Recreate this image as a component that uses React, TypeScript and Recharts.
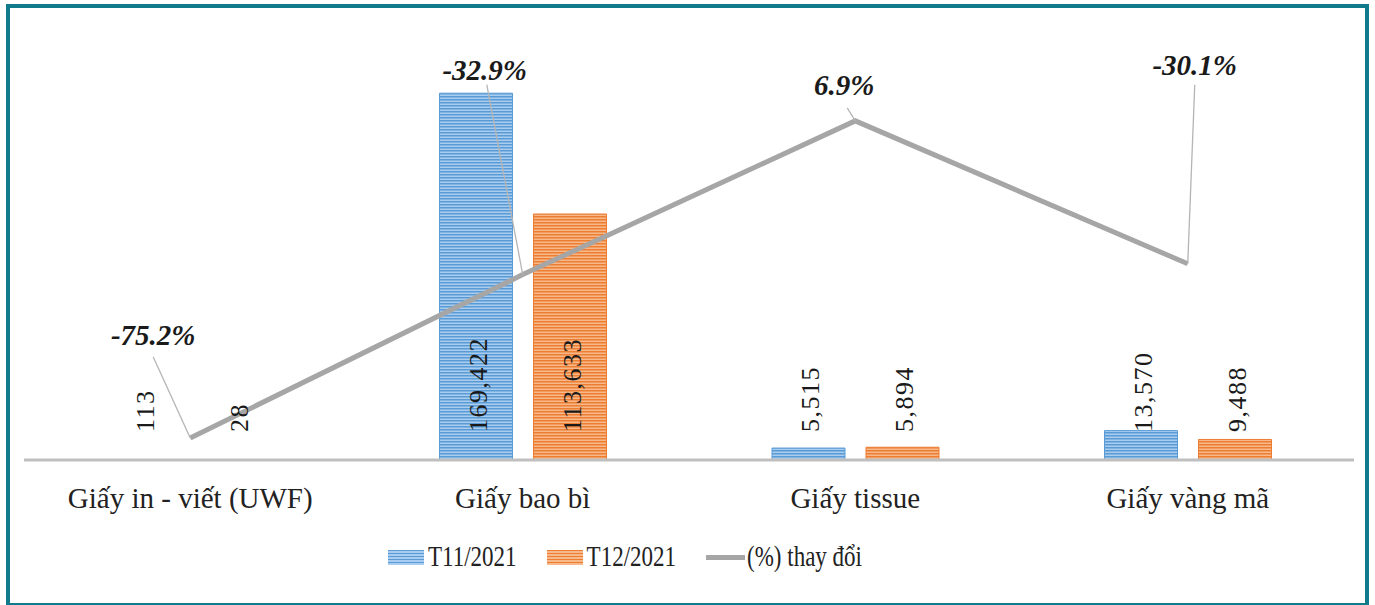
import React from 'react';
import { ComposedChart, Bar, Line, XAxis, YAxis, Legend, LabelList } from 'recharts';

const categories = ['Giấy in - viết (UWF)', 'Giấy bao bì', 'Giấy tissue', 'Giấy vàng mã'];
const t11Values = [113, 169422, 5515, 13570];
const t12Values = [28, 113633, 5894, 9488];
const changeValues = [-75.2, -32.9, 6.9, -30.1];

const data = categories.map((name, i) => ({
  name,
  t11: t11Values[i],
  t12: t12Values[i],
  change: changeValues[i],
}));

// label offset layout (relative to each line point): text anchor and leader-line start
const pctLabelLayout = [
  { tx: -37, ty: -93, lx: -37, ly: -81 },
  { tx: -38, ty: -195, lx: -36, ly: -190 },
  { tx: -11, ty: -26, lx: -8, ly: -13 },
  { tx: 7, ty: -189, lx: 7, ly: -179 },
];

const SERIF = '"Liberation Serif", "Times New Roman", serif';
const BLUE_DARK = '#5b9bd5';
const BLUE_LIGHT = '#a9cdf0';
const ORANGE_DARK = '#ed7d31';
const ORANGE_LIGHT = '#f7b98c';
const LINE_GRAY = '#a6a6a6';

const ValueLabel = (props: any) => {
  const { x, y, width, height, value } = props;
  const cx = Number(x) + Number(width) / 2 + 2;
  const bottom = Number(y) + Number(height);
  const by = bottom - 28;
  return (
    <text
      x={cx}
      y={by}
      transform={`rotate(-90, ${cx}, ${by})`}
      textAnchor="start"
      dominantBaseline="central"
      style={{ fontFamily: SERIF, fontSize: 26, letterSpacing: 1.5 }}
      fill="#1a1a1a"
    >
      {Number(value).toLocaleString('en-US')}
    </text>
  );
};

const PctLabel = (props: any) => {
  const { x, y, value } = props;
  let index = props.index;
  if (index === undefined || index === null) index = changeValues.indexOf(Number(value));
  const lay = pctLabelLayout[index] || { tx: 0, ty: -20, lx: 0, ly: -10 };
  const px = Number(x);
  const py = Number(y);
  return (
    <g>
      <line x1={px + lay.lx} y1={py + lay.ly} x2={px} y2={py} stroke="#b5b5b5" strokeWidth={1.3} />
      <text
        x={px + lay.tx}
        y={py + lay.ty}
        textAnchor="middle"
        style={{ fontFamily: SERIF, fontSize: 29, fontStyle: 'italic', fontWeight: 'bold' }}
        fill="#1a1a1a"
      >
        {`${Number(value).toFixed(1)}%`}
      </text>
    </g>
  );
};

const CategoryTick = (props: any) => {
  const { x, y, payload } = props;
  return (
    <text
      x={x}
      y={Number(y) + 48}
      textAnchor="middle"
      style={{ fontFamily: SERIF, fontSize: 29 }}
      fill="#222"
    >
      {payload.value}
    </text>
  );
};

const legendItems = [
  { label: 'T11/2021', kind: 'bar', dark: BLUE_DARK, light: BLUE_LIGHT },
  { label: 'T12/2021', kind: 'bar', dark: ORANGE_DARK, light: ORANGE_LIGHT },
  { label: '(%) thay đổi', kind: 'line', dark: LINE_GRAY, light: LINE_GRAY },
];

const LegendContent = () => (
  <div style={{ display: 'flex', alignItems: 'center', fontFamily: SERIF, fontSize: 23, color: '#222' }}>
    {legendItems.map((it, i) => (
      <div key={i} style={{ display: 'flex', alignItems: 'center', marginRight: i < 2 ? 30 : 0 }}>
        {it.kind === 'bar' ? (
          <div
            style={{
              width: 36,
              height: 15,
              marginRight: 4,
              background: `repeating-linear-gradient(to bottom, ${it.dark} 0px, ${it.dark} 1.5px, ${it.light} 1.5px, ${it.light} 3px)`,
            }}
          />
        ) : (
          <div style={{ width: 39, height: 5, background: it.dark, marginRight: 2 }} />
        )}
        <span style={{ lineHeight: '26px', display: 'inline-block', transform: 'scaleY(1.3)' }}>{it.label}</span>
      </div>
    ))}
  </div>
);

export default function App() {
  return (
    <div style={{ position: 'fixed', left: 0, top: 0, width: 1375, height: 605, background: '#fff', overflow: 'hidden' }}>
      <div
        style={{
          position: 'absolute',
          left: 6,
          top: 4,
          width: 1363,
          height: 603,
          border: '4px solid #127b8b',
          boxSizing: 'border-box',
        }}
      />
      <div style={{ position: 'absolute', left: 0, top: 0 }}>
        <ComposedChart
          width={1375}
          height={605}
          data={data}
          margin={{ top: 27, right: 21, bottom: 0, left: 24 }}
          barCategoryGap={83}
          barGap={21}
        >
          <defs>
            <pattern id="stripeBlue" patternUnits="userSpaceOnUse" width="6" height="3">
              <rect x="0" y="0" width="6" height="3" fill={BLUE_LIGHT} />
              <rect x="0" y="0" width="6" height="1.5" fill={BLUE_DARK} />
            </pattern>
            <pattern id="stripeOrange" patternUnits="userSpaceOnUse" width="6" height="3">
              <rect x="0" y="0" width="6" height="3" fill={ORANGE_LIGHT} />
              <rect x="0" y="0" width="6" height="1.5" fill={ORANGE_DARK} />
            </pattern>
          </defs>
          <XAxis
            dataKey="name"
            height={145}
            axisLine={{ stroke: '#bfbfbf', strokeWidth: 3 }}
            tickLine={false}
            tickSize={0}
            tickMargin={0}
            interval={0}
            tick={<CategoryTick />}
          />
          <YAxis yAxisId="left" hide domain={[0, 200000]} />
          <YAxis yAxisId="right" orientation="right" hide domain={[-80.9, 31.2]} allowDataOverflow />
          <Legend
            layout="horizontal"
            verticalAlign="middle"
            align="center"
            wrapperStyle={{ top: 544, left: 388, width: 620 }}
            content={<LegendContent />}
          />
          <Bar yAxisId="left" dataKey="t11" name="T11/2021" fill="url(#stripeBlue)" stroke={BLUE_DARK} strokeWidth={1} isAnimationActive={false}>
            <LabelList dataKey="t11" content={<ValueLabel />} />
          </Bar>
          <Bar yAxisId="left" dataKey="t12" name="T12/2021" fill="url(#stripeOrange)" stroke={ORANGE_DARK} strokeWidth={1} isAnimationActive={false}>
            <LabelList dataKey="t12" content={<ValueLabel />} />
          </Bar>
          <Line
            yAxisId="right"
            dataKey="change"
            name="(%) thay đổi"
            stroke={LINE_GRAY}
            strokeWidth={5}
            dot={false}
            activeDot={false}
            type="linear"
            isAnimationActive={false}
          >
            <LabelList dataKey="change" content={<PctLabel />} />
          </Line>
        </ComposedChart>
      </div>
    </div>
  );
}
